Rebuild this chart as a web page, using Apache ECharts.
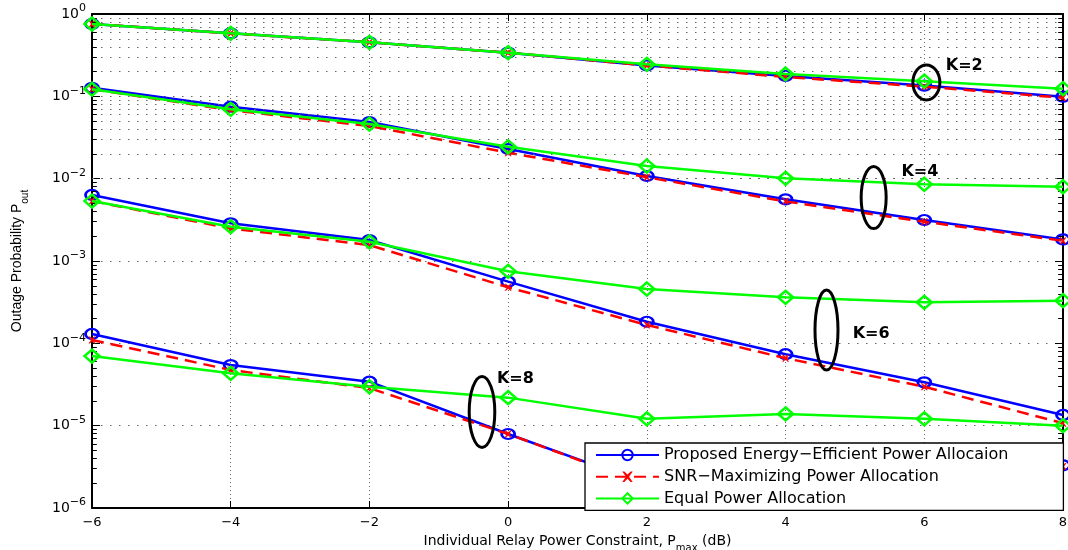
<!DOCTYPE html>
<html><head><meta charset="utf-8">
<script src="https://cdn.jsdelivr.net/npm/echarts/dist/echarts.min.js"></script>
<style>html,body{margin:0;padding:0;background:#fff}#c{width:1068px;height:550px}</style>
</head><body><div id="c"></div>
<script>
// ---- data ----
const xValues = [-6, -4, -2, 0, 2, 4, 6, 8];
const xTickLabels = ['−6', '−4', '−2', '0', '2', '4', '6', '8'];

const proposedK2 = [0.756, 0.582, 0.453, 0.339, 0.237, 0.177, 0.135, 0.099];
const proposedK4 = [0.127, 0.0748, 0.0488, 0.0229, 0.01077, 0.00561, 0.00315, 0.00183];
const proposedK6 = [0.00634, 0.00287, 0.0018, 0.000561, 0.000183, 7.38e-5, 3.36e-5, 1.35e-5];
const proposedK8 = [1.30e-4, 5.45e-5, 3.42e-5, 7.92e-6, 1.95e-6, 2.3e-6, 2.8e-6, 3.3e-6];

const snrK2 = [0.756, 0.582, 0.453, 0.339, 0.237, 0.172, 0.131, 0.096];
const snrK4 = [0.122, 0.068, 0.0436, 0.0207, 0.0104, 0.0053, 0.0030, 0.00176];
const snrK6 = [0.00535, 0.00249, 0.00156, 0.000479, 0.000167, 6.6e-5, 2.97e-5, 1.07e-5];
const snrK8 = [1.1e-4, 4.74e-5, 2.86e-5, 7.92e-6, 1.9e-6, 2.2e-6, 2.7e-6, 3.2e-6];

const equalK2 = [0.756, 0.582, 0.453, 0.339, 0.245, 0.187, 0.153, 0.124];
const equalK4 = [0.122, 0.0695, 0.0461, 0.0244, 0.01425, 0.0101, 0.00855, 0.00798];
const equalK6 = [0.00535, 0.00261, 0.00171, 0.00075, 0.000457, 0.000362, 0.000315, 0.00033];
const equalK8 = [7.0e-5, 4.32e-5, 2.97e-5, 2.19e-5, 1.21e-5, 1.39e-5, 1.21e-5, 1.0e-5];

const legendNames = ['Proposed Energy−Efficient Power Allocaion', 'SNR−Maximizing Power Allocation', 'Equal Power Allocation'];
const kLabels = ['K=2', 'K=4', 'K=6', 'K=8'];
// annotation anchors in data coordinates (ellipse centre, label left-middle)
const ellipseCenters = [[6.03, 0.147], [5.27, 0.0059], [4.59, 1.45e-4], [-0.377, 1.47e-5]];
const labelAnchors = [[6.31, 0.2355], [5.67, 0.01195], [4.967, 1.32e-4], [-0.161, 3.69e-5]];

// ---- styles ----
const ellipseRadii = [[13.5, 17.5], [12.5, 31], [11.5, 40], [12.8, 35.5]];
const FONT = 'DejaVu Sans';

const chart = echarts.init(document.getElementById('c'), null, {renderer: 'canvas'});

function expLabel(v) {
  const e = Math.round(Math.log10(v));
  return '{b|10}{s|' + (e < 0 ? '−' + (-e) : String(e)) + '}';
}

const minorVals = [];
for (let k = -6; k <= -1; k++) for (let m = 2; m <= 9; m++) minorVals.push(m * Math.pow(10, k));

const gridLines = minorVals.map(v => ({yAxis: v}));
const tickSegs = [];
minorVals.forEach(v => {
  tickSegs.push([{coord: [-6, v]}, {coord: [-5.93, v]}]);
  tickSegs.push([{coord: [7.93, v]}, {coord: [8, v]}]);
});

const xSym = 'path://M0,0 L2,0 L5,3 L8,0 L10,0 L6.5,5 L10,10 L8,10 L5,7 L2,10 L0,10 L3.5,5 Z';

const methodDefs = [
  {name: legendNames[0], sets: [proposedK2, proposedK4, proposedK6, proposedK8],
   symbol: 'circle', symbolSize: [13, 10], z: 3,
   lineStyle: {color: '#0000ff', width: 2.5, type: 'solid'},
   itemStyle: {color: 'rgba(0,0,0,0)', borderColor: '#0000ff', borderWidth: 2.5}},
  {name: legendNames[1], sets: [snrK2, snrK4, snrK6, snrK8],
   symbol: xSym, symbolSize: 7, z: 4,
   lineStyle: {color: '#ff0000', width: 2.5, type: [12, 7]},
   itemStyle: {color: '#ff0000', borderWidth: 0}},
  {name: legendNames[2], sets: [equalK2, equalK4, equalK6, equalK8],
   symbol: 'diamond', symbolSize: [15, 13], z: 5,
   lineStyle: {color: '#00ff00', width: 2.5, type: 'solid'},
   itemStyle: {color: 'rgba(0,0,0,0)', borderColor: '#00ff00', borderWidth: 2.5}}
];

const series = [{
  type: 'line', name: '_grid', data: [], silent: true, z: 1,
  markLine: {
    silent: true, symbol: ['none', 'none'], label: {show: false}, animation: false,
    lineStyle: {color: '#666', width: 1, type: [1.5, 7.5]},
    data: gridLines
  }
}, {
  type: 'line', name: '_ticks', data: [], silent: true, z: 6,
  markLine: {
    silent: true, symbol: ['none', 'none'], label: {show: false}, animation: false,
    lineStyle: {color: '#000', width: 1, type: 'solid'},
    data: tickSegs
  }
}];

methodDefs.forEach(m => {
  m.sets.forEach(arr => {
    series.push({
      type: 'line', name: m.name,
      data: xValues.map((x, i) => [x, arr[i]]),
      symbol: m.symbol, symbolSize: m.symbolSize, showAllSymbol: true,
      z: m.z, lineStyle: m.lineStyle, itemStyle: m.itemStyle,
      emphasis: {disabled: true}
    });
  });
});

const yAxisBase = {
  type: 'log', logBase: 10, min: 1e-6, max: 1, splitNumber: 6,
  axisLine: {show: true, onZero: false, lineStyle: {color: '#000', width: 2}},
  axisTick: {show: true, inside: true, length: 8, lineStyle: {color: '#000', width: 1}},
  minorTick: {show: false}
};

chart.setOption({
  animation: false,
  backgroundColor: '#fff',
  grid: {left: 92, right: 5, top: 14, bottom: 42, containLabel: false, outerBoundsMode: 'none'},
  xAxis: [{
    type: 'value', min: -6, max: 8, interval: 2, position: 'bottom',
    axisLine: {show: true, onZero: false, lineStyle: {color: '#000', width: 2}},
    axisTick: {show: true, inside: true, length: 7, lineStyle: {color: '#000'}},
    axisLabel: {color: '#000', fontFamily: FONT, fontSize: 13, margin: 8,
      formatter: v => xTickLabels[xValues.indexOf(v)] ?? String(v)},
    splitLine: {show: true, lineStyle: {color: '#666', width: 1, type: [1, 3]}},
    name: '{a|Individual Relay Power Constraint, P}{s|max}{a| (dB)}',
    nameLocation: 'middle', nameGap: 18,
    nameTextStyle: {rich: {
      a: {fontFamily: FONT, fontSize: 14, color: '#000', lineHeight: 20, verticalAlign: 'top'},
      s: {fontFamily: FONT, fontSize: 10, color: '#000', lineHeight: 11, verticalAlign: 'bottom'}
    }}
  }, {
    type: 'value', min: -6, max: 8, interval: 2, position: 'top',
    axisLine: {show: true, onZero: false, lineStyle: {color: '#000', width: 2}},
    axisTick: {show: true, inside: true, length: 7, lineStyle: {color: '#000'}},
    axisLabel: {show: false}, splitLine: {show: false}
  }],
  yAxis: [Object.assign({}, yAxisBase, {
    position: 'left',
    axisLabel: {color: '#000', margin: 6, formatter: expLabel, rich: {
      b: {fontFamily: FONT, fontSize: 14, color: '#000'},
      s: {fontFamily: FONT, fontSize: 11, color: '#000', padding: [0, 0, 11, 0]}
    }},
    splitLine: {show: true, lineStyle: {color: '#666', width: 1, type: [1.5, 7.5]}},
    name: '{a|Outage Probability P}{s|out}',
    nameLocation: 'middle', nameGap: 62, nameRotate: 90,
    nameTextStyle: {rich: {
      a: {fontFamily: 'Liberation Sans', fontSize: 14, color: '#000', lineHeight: 20, verticalAlign: 'top'},
      s: {fontFamily: 'Liberation Sans', fontSize: 10, color: '#000', lineHeight: 8, verticalAlign: 'bottom'}
    }}
  }), Object.assign({}, yAxisBase, {
    position: 'right',
    axisLabel: {show: false}, splitLine: {show: false}
  })],
  legend: {
    data: legendNames, orient: 'vertical', left: 585, top: 443,
    itemWidth: 63, itemHeight: 13, itemGap: 5.7,
    padding: [4, 55, 4, 10],
    backgroundColor: '#fff', borderColor: '#000', borderWidth: 1.3,
    textStyle: {fontFamily: FONT, fontSize: 16, color: '#000'},
    selectedMode: false, z: 10
  },
  series: series
});

// annotations: ellipses + K labels placed through the chart's own scales
const graphics = [];
kLabels.forEach((lab, i) => {
  const c = chart.convertToPixel({xAxisIndex: 0, yAxisIndex: 0}, ellipseCenters[i]);
  const t = chart.convertToPixel({xAxisIndex: 0, yAxisIndex: 0}, labelAnchors[i]);
  graphics.push({
    type: 'ellipse', z: 8, silent: true,
    shape: {cx: c[0], cy: c[1], rx: ellipseRadii[i][0], ry: ellipseRadii[i][1]},
    style: {fill: 'none', stroke: '#000', lineWidth: 3}
  });
  graphics.push({
    type: 'text', z: 8, silent: true, x: t[0], y: t[1],
    style: {text: lab, fill: '#000', font: 'bold 16px "DejaVu Sans"', textAlign: 'left', textVerticalAlign: 'middle'}
  });
});
chart.setOption({graphic: graphics});
</script>
</body></html>
